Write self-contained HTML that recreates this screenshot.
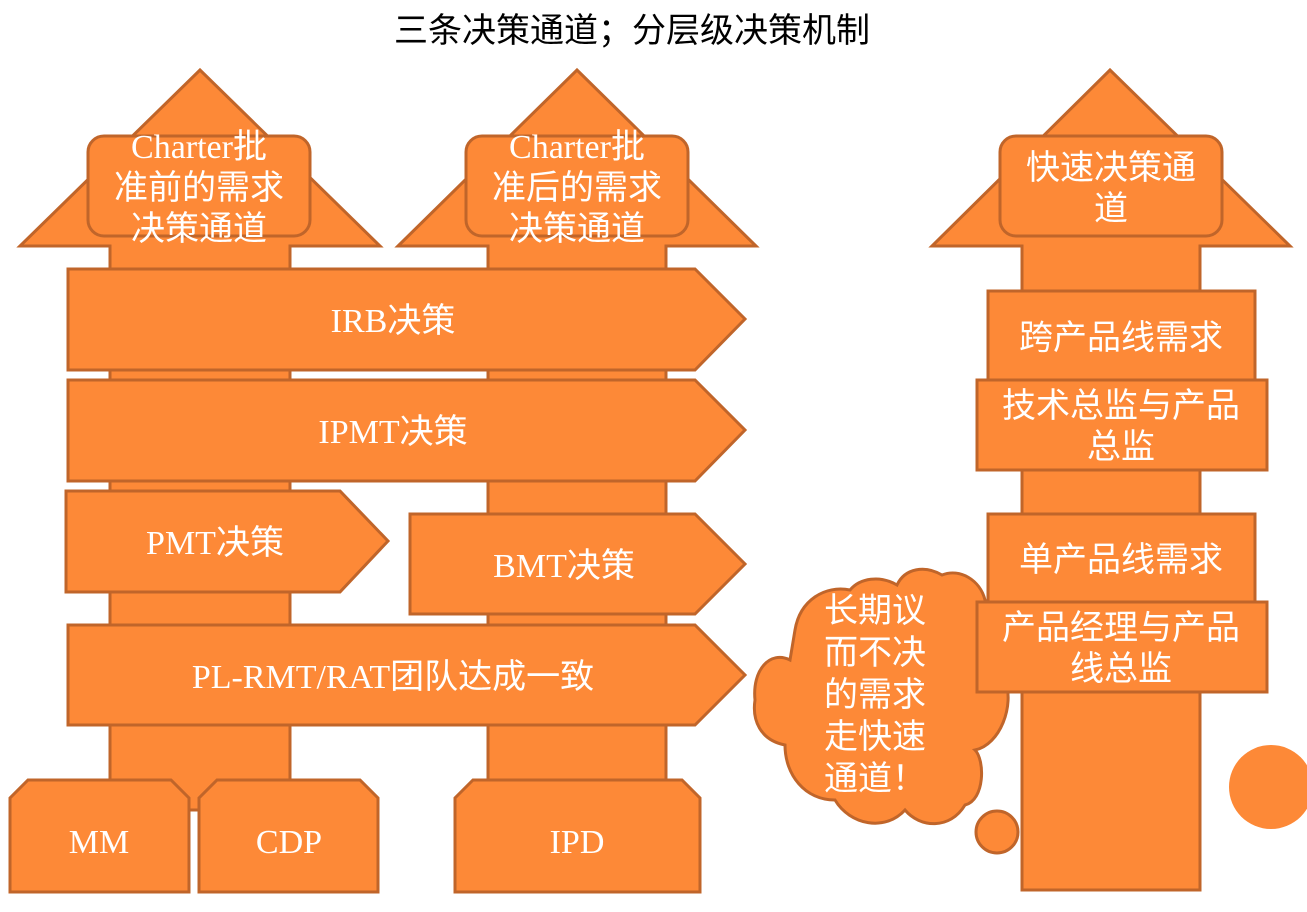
<!DOCTYPE html>
<html><head><meta charset="utf-8"><style>
body{margin:0;background:#fff}
svg text{font-family:"Liberation Serif","Noto Sans CJK SC",serif;fill:#fff;font-size:34px;text-anchor:middle}
</style></head><body>
<svg width="1307" height="907" viewBox="0 0 1307 907" xmlns="http://www.w3.org/2000/svg">
<g fill="#fd8937" stroke="#c0652a" stroke-width="3">
<!-- cloud (behind right arrow) -->
<path d="M790,660 C770,650 752,670 755,700 C752,720 760,740 785,745 C785,775 805,800 835,800 C850,825 885,832 905,810 C920,828 950,830 965,805 C985,800 985,760 975,750 C1000,745 1015,705 1005,680 C1012,650 1000,620 985,600 C980,580 960,568 942,575 C925,565 905,568 897,585 C880,575 860,578 850,590 C825,585 800,600 795,630 Z"/>
<circle cx="997" cy="832" r="21"/>
<!-- left arrow -->
<path d="M110,810 V246 H20 L200,70 L380,246 H290 V810 Z"/>
<rect x="88" y="136" width="222" height="100" rx="16"/>
<!-- middle arrow -->
<path d="M488,810 V246 H398 L577,70 L756,246 H666 V810 Z"/>
<rect x="466" y="136" width="222" height="100" rx="16"/>
<!-- right arrow -->
<path d="M1022,890 V246 H932 L1110,70 L1290,246 H1200 V890 Z"/>
<rect x="1000" y="136" width="222" height="100" rx="16"/>
<!-- pentagons -->
<path d="M68,269 H695 L745,319 L695,370 H68 Z"/>
<path d="M68,380 H695 L745,430 L695,481 H68 Z"/>
<path d="M66,491 H340 L388,541 L340,592 H66 Z"/>
<path d="M410,514 H695 L745,564 L695,614 H410 Z"/>
<path d="M68,625 H695 L745,675 L695,725 H68 Z"/>
<!-- bottom boxes -->
<path d="M10,892 V798 L28,780 H171 L189,798 V892 Z"/>
<path d="M199,892 V798 L217,780 H360 L378,798 V892 Z"/>
<path d="M455,892 V798 L473,780 H682 L700,798 V892 Z"/>
<!-- right boxes -->
<rect x="988" y="291" width="267" height="89"/>
<rect x="977" y="380" width="290" height="90"/>
<rect x="988" y="514" width="267" height="88"/>
<rect x="977" y="602" width="290" height="90"/>
</g>
<circle cx="1271" cy="787" r="42" fill="#fd8937"/>
<text x="632" y="42" style="fill:#000;font-size:34px;font-family:'Liberation Sans','Noto Sans CJK SC',sans-serif">三条决策通道；分层级决策机制</text>
<text x="199" y="158">Charter批</text>
<text x="199" y="199">准前的需求</text>
<text x="199" y="240">决策通道</text>
<text x="577" y="158">Charter批</text>
<text x="577" y="199">准后的需求</text>
<text x="577" y="240">决策通道</text>
<text x="1111" y="179">快速决策通</text>
<text x="1111" y="220">道</text>
<text x="393" y="332">IRB决策</text>
<text x="393" y="443">IPMT决策</text>
<text x="215" y="554">PMT决策</text>
<text x="564" y="577">BMT决策</text>
<text x="393" y="688">PL-RMT/RAT团队达成一致</text>
<text x="99" y="853">MM</text>
<text x="289" y="853">CDP</text>
<text x="577" y="853">IPD</text>
<text x="1121" y="349">跨产品线需求</text>
<text x="1121" y="417">技术总监与产品</text>
<text x="1121" y="458">总监</text>
<text x="1121" y="571">单产品线需求</text>
<text x="1121" y="639">产品经理与产品</text>
<text x="1121" y="680">线总监</text>
<text x="875" y="622">长期议</text>
<text x="875" y="664">而不决</text>
<text x="875" y="706">的需求</text>
<text x="875" y="748">走快速</text>
<text x="875" y="790">通道！</text>
</svg>
</body></html>
